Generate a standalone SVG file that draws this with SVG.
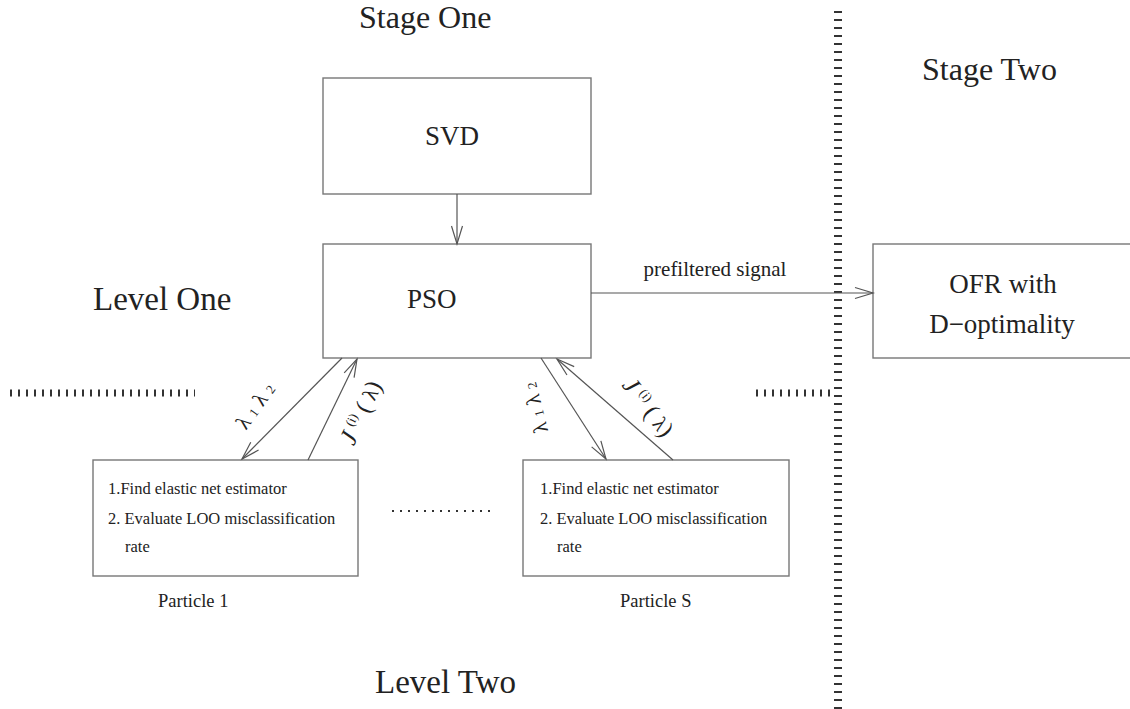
<svg xmlns="http://www.w3.org/2000/svg" width="1130" height="709" viewBox="0 0 1130 709">
  <style>
    text { font-family: "Liberation Serif", "Times New Roman", serif; fill: #222; }
    .title { font-size: 32px; }
    .level { font-size: 33px; }
    .main { font-size: 27px; }
    .small { font-size: 16.5px; }
    .caption { font-size: 18.5px; }
    .sig { font-size: 21px; }
    .box { fill: #fff; stroke: #777; stroke-width: 1.4; }
    .conn { stroke: #555; stroke-width: 1.2; fill: none; marker-end: url(#vhead); }
    .ticks { stroke: #333; fill: none; stroke-dasharray: 2 6; }
    .lab { font-size: 21px; }
    .sub { font-size: 13px; }
    .jl { font-size: 25px; font-style: italic; }
    .jp { font-size: 24px; }
  </style>
  <defs>
    <marker id="vhead" markerUnits="userSpaceOnUse" markerWidth="24" markerHeight="16" viewBox="-20 -8 24 16" refX="0" refY="0" orient="auto">
      <path d="M-18,-5.5 L0,0 L-18,5.5" fill="none" stroke="#555" stroke-width="1.2"/>
    </marker>
  </defs>

  <rect width="1130" height="709" fill="#fff"/>

  <!-- section separators -->
  <g id="separators">
    <line class="ticks" x1="838" y1="11" x2="838" y2="709" stroke-width="8"/>
    <line class="ticks" x1="10" y1="393" x2="195" y2="393" stroke-width="7"/>
    <line class="ticks" x1="756" y1="393" x2="834" y2="393" stroke-width="7"/>
    <line class="ticks" x1="392" y1="511" x2="491" y2="511" stroke-width="2"/>
  </g>

  <!-- headings -->
  <g id="headings">
    <text class="title" x="359" y="28">Stage One</text>
    <text class="title" x="922" y="80">Stage Two</text>
    <text class="level" x="93" y="310">Level One</text>
    <text class="level" x="375" y="693">Level Two</text>
  </g>

  <g id="svd">
    <rect class="box" x="323" y="78" width="268" height="116"/>
    <text class="main" x="425" y="145">SVD</text>
  </g>

  <g id="pso">
    <rect class="box" x="323" y="244" width="268" height="114"/>
    <text class="main" x="407" y="308">PSO</text>
  </g>

  <g id="ofr">
    <rect class="box" x="873" y="244" width="260" height="114"/>
    <text class="main" x="1003" y="293" text-anchor="middle">OFR with</text>
    <text class="main" x="1002" y="333" text-anchor="middle">D−optimality</text>
  </g>

  <g id="particle1">
    <rect class="box" x="93" y="460" width="265" height="116"/>
    <text class="small" x="108" y="494">1.Find elastic net estimator</text>
    <text class="small" x="108" y="524">2. Evaluate LOO misclassification</text>
    <text class="small" x="125" y="552">rate</text>
    <text class="caption" x="158" y="607">Particle 1</text>
  </g>

  <g id="particleS">
    <rect class="box" x="523" y="460" width="266" height="116"/>
    <text class="small" x="540" y="494">1.Find elastic net estimator</text>
    <text class="small" x="540" y="524">2. Evaluate LOO misclassification</text>
    <text class="small" x="557" y="552">rate</text>
    <text class="caption" x="620" y="607">Particle  S</text>
  </g>

  <!-- connectors -->
  <g id="connectors">
    <line class="conn" x1="457" y1="194" x2="457" y2="244"/>
    <line class="conn" x1="591" y1="293" x2="873" y2="293"/>
    <line class="conn" x1="342" y1="358" x2="242" y2="459"/>
    <line class="conn" x1="308" y1="460" x2="357" y2="359"/>
    <line class="conn" x1="541" y1="358" x2="606" y2="459"/>
    <line class="conn" x1="673" y1="460" x2="557" y2="359"/>
  </g>

  <!-- connector labels -->
  <g id="labels">
    <text class="sig" x="715" y="276" text-anchor="middle">prefiltered signal</text>
    <text class="lab" transform="translate(261,410) rotate(-54)" text-anchor="middle">λ<tspan class="sub" dx="6">1</tspan><tspan dx="6">λ</tspan><tspan class="sub" dx="6">2</tspan></text>
    <text class="lab" transform="translate(368,416) rotate(-65)" text-anchor="middle"><tspan class="jl">J</tspan><tspan class="sub" dx="6" dy="-9">(i)</tspan><tspan class="jp" dx="6" dy="9">( </tspan>λ<tspan class="jp">)</tspan></text>
    <text class="lab" transform="translate(542,406) rotate(-104)" text-anchor="middle">λ<tspan class="sub" dx="6">1</tspan><tspan dx="6">λ</tspan><tspan class="sub" dx="6">2</tspan></text>
    <text class="lab" transform="translate(642,412) rotate(52)" text-anchor="middle"><tspan class="jl">J</tspan><tspan class="sub" dx="6" dy="-9">(i)</tspan><tspan class="jp" dx="6" dy="9">( </tspan>λ<tspan class="jp">)</tspan></text>
  </g>
</svg>
